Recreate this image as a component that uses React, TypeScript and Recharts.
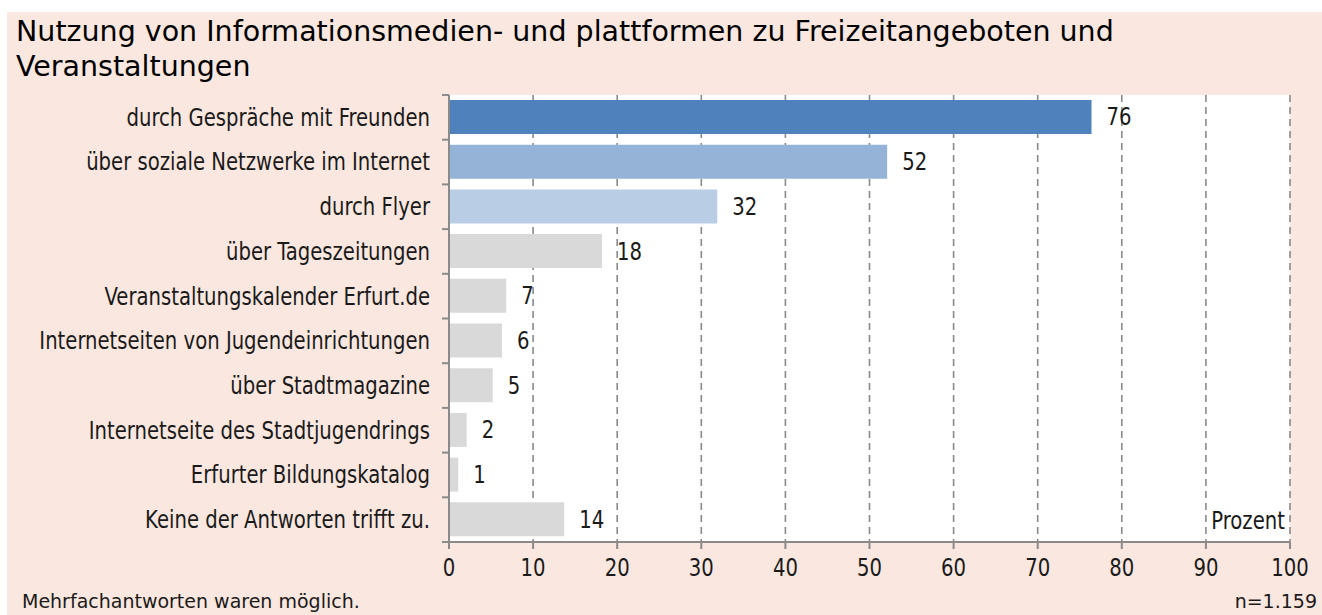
import React from "react";
import { BarChart, Bar, XAxis, YAxis, CartesianGrid, Cell, LabelList } from "recharts";

const categories = [
  "durch Gespräche mit Freunden",
  "über soziale Netzwerke im Internet",
  "durch Flyer ",
  "über Tageszeitungen",
  "Veranstaltungskalender Erfurt.de",
  "Internetseiten von Jugendeinrichtungen",
  "über Stadtmagazine",
  "Internetseite des Stadtjugendrings",
  "Erfurter Bildungskatalog",
  "Keine der Antworten trifft zu.",
];
const values = [76.4, 52.1, 31.9, 18.2, 6.8, 6.3, 5.2, 2.1, 1.1, 13.7];
const valueLabels = ["76", "52", "32", "18", "7", "6", "5", "2", "1", "14"];
const barColors = ["#4F81BD", "#95B3D7", "#B9CDE5", "#D9D9D9", "#D9D9D9", "#D9D9D9", "#D9D9D9", "#D9D9D9", "#D9D9D9", "#D9D9D9"];
const xTicks = [0, 10, 20, 30, 40, 50, 60, 70, 80, 90, 100];

const title1 = "Nutzung von Informationsmedien- und plattformen zu Freizeitangeboten und";
const title2 = "Veranstaltungen";
const unitLabel = "Prozent";
const footnote = "Mehrfachantworten waren möglich.";
const sampleSize = "n=1.159";

const data = categories.map((c, i) => ({ name: c, value: values[i], label: valueLabels[i] }));

const NARROW = "'DejaVu Sans Condensed', 'Liberation Sans', sans-serif";
const REG = "'DejaVu Sans', 'Noto Sans', sans-serif";
const AXIS = "#8a8a8a";
const PINK = "#FAE7DF";
const TXT = "#1a1a1a";
const SQ = 0.91;

const NarrowText = ({ x, y, anchor, dy, children }: any) => (
  <text
    transform={`translate(${x},${y}) scale(${SQ},1)`}
    x={0}
    y={0}
    dy={dy}
    textAnchor={anchor}
    fontSize={24}
    fontFamily={NARROW}
    fill={TXT}
  >
    {children}
  </text>
);

const CatTick = (props: any) => {
  const { x, y, payload, index } = props;
  const ax = x + 19;
  const half = payload && payload.offset ? payload.offset : 22.35;
  return (
    <g>
      <NarrowText x={x} y={y} dy="0.35em" anchor="end">
        {payload.value}
      </NarrowText>
      {index === 0 && <line x1={ax - 7} x2={ax} y1={y - half} y2={y - half} stroke={AXIS} strokeWidth={2} />}
      <line x1={ax - 7} x2={ax} y1={y + half} y2={y + half} stroke={AXIS} strokeWidth={2} />
    </g>
  );
};

const XTick = (props: any) => {
  const { x, y, payload } = props;
  return (
    <NarrowText x={x} y={y} dy="0.71em" anchor="middle">
      {payload.value}
    </NarrowText>
  );
};

const ValueLabel = (props: any) => {
  const { x, y, width, height, value } = props;
  return (
    <NarrowText x={x + width + 15} y={y + height / 2} dy="0.35em" anchor="start">
      {value}
    </NarrowText>
  );
};

export default function App() {
  return (
    <div style={{ position: "absolute", left: 0, top: 0, width: 1322, height: 615, background: "#fff", overflow: "hidden" }}>
      <div style={{ position: "absolute", left: 7, top: 12, right: 0, bottom: 0, background: PINK }} />
      <div style={{ position: "absolute", left: 16, top: 14, fontFamily: REG, fontSize: 28.5, lineHeight: "35px", color: "#000", whiteSpace: "nowrap" }}>
        <div>{title1}</div>
        <div>{title2}</div>
      </div>
      <div style={{ position: "absolute", left: 0, top: 0 }}>
        <BarChart
          width={1322}
          height={615}
          data={data}
          layout="vertical"
          margin={{ top: 95, right: 32, bottom: 33, left: 0 }}
        >
          <CartesianGrid horizontal={false} stroke={AXIS} strokeWidth={1.6} strokeDasharray="7 5" fill="#ffffff" />
          <XAxis
            type="number"
            dataKey="value"
            domain={[0, 100]}
            ticks={xTicks}
            interval={0}
            height={40}
            tickSize={7}
            tickMargin={10}
            stroke={AXIS}
            strokeWidth={2}
            tick={<XTick />}
          />
          <YAxis
            type="category"
            dataKey="name"
            width={449}
            interval={0}
            tickSize={7}
            tickMargin={12}
            tickLine={false}
            stroke={AXIS}
            strokeWidth={2}
            tick={<CatTick />}
          />
          <Bar dataKey="value" barSize={34} isAnimationActive={false}>
            {data.map((d, i) => (
              <Cell key={i} fill={barColors[i]} />
            ))}
            <LabelList dataKey="label" content={<ValueLabel />} />
          </Bar>
        </BarChart>
      </div>
      <div
        style={{
          position: "absolute",
          right: 37,
          top: 506,
          fontFamily: NARROW,
          fontSize: 24,
          color: TXT,
          lineHeight: "30px",
          transform: `scaleX(${SQ})`,
          transformOrigin: "right center",
        }}
      >
        {unitLabel}
      </div>
      <div style={{ position: "absolute", left: 22, top: 587, fontFamily: REG, fontSize: 19, color: TXT, whiteSpace: "nowrap", lineHeight: "28px" }}>
        {footnote}
      </div>
      <div style={{ position: "absolute", right: 5, top: 587, fontFamily: REG, fontSize: 19, color: TXT, whiteSpace: "nowrap", lineHeight: "28px" }}>
        {sampleSize}
      </div>
    </div>
  );
}
